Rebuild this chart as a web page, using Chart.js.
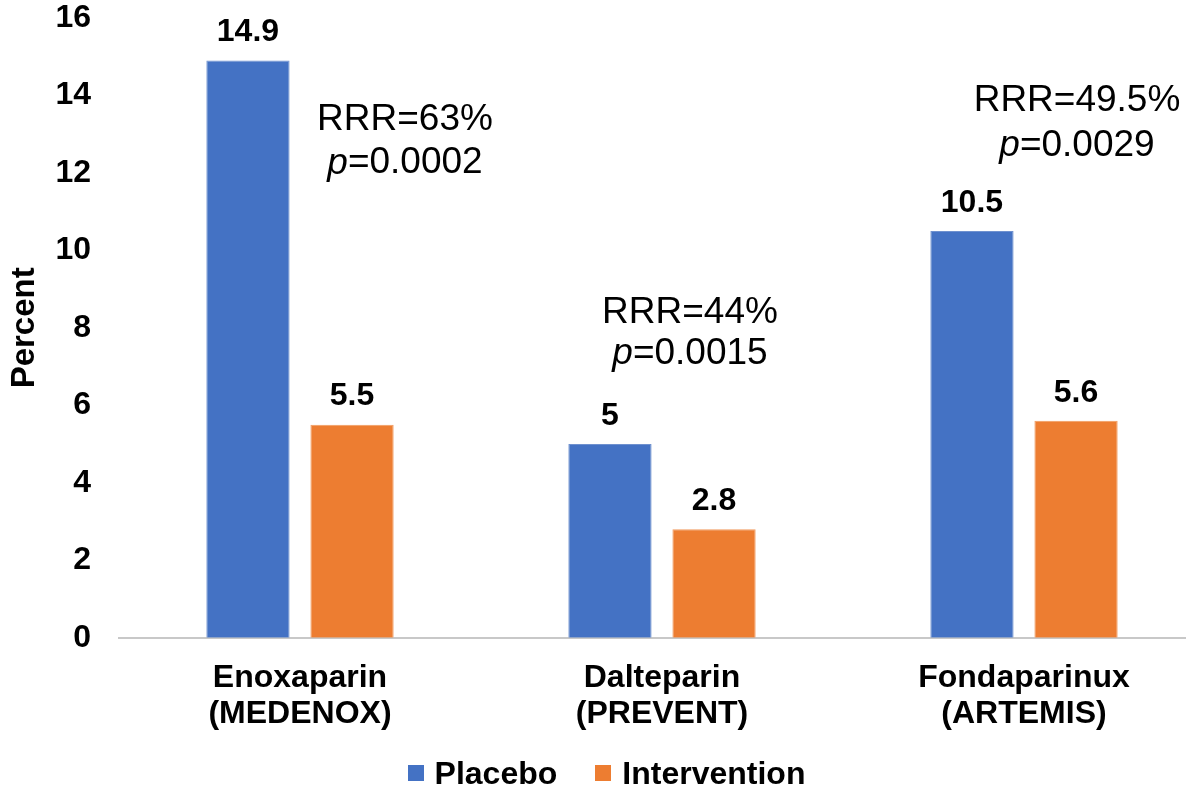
<!DOCTYPE html>
<html>
<head>
    <meta charset="utf-8" />
    <script src="https://cdn.jsdelivr.net/npm/chart.js"></script>
    <style>
        html, body {
            margin: 0;
            padding: 0;
            background: #ffffff;
            overflow: hidden;
        }

        .wrap {
            width: 1205px;
            height: 787px;
            position: relative;
        }

        .legend {
            position: absolute;
            left: 0;
            right: 0;
            top: 755px;
            height: 36px;
            display: flex;
            justify-content: center;
            align-items: center;
            font-family: 'Liberation Sans', Arial, sans-serif;
            font-weight: bold;
            font-size: 32px;
            color: #000;
            padding-left: 8px;
        }

        .legend span.item {
            display: flex;
            align-items: center;
            margin: 0 19px;
        }

        .legend span.box {
            display: inline-block;
            width: 16px;
            height: 16px;
            margin-right: 11px;
        }
    </style>
</head>
<body>
    <div class="wrap">
        <canvas id="chart"></canvas>
        <div class="legend" id="legend"></div>
    </div>
<script>
    // chart data
    var categories = [["Enoxaparin", "(MEDENOX)"], ["Dalteparin", "(PREVENT)"], ["Fondaparinux", "(ARTEMIS)"]];
    var seriesNames = ["Placebo", "Intervention"];
    var placebo = [14.9, 5, 10.5];
    var intervention = [5.5, 2.8, 5.6];
    var yTicks = [0, 2, 4, 6, 8, 10, 12, 14, 16];
    var rrrText = ["RRR=63%", "RRR=44%", "RRR=49.5%"];
    var pText = ["0.0002", "0.0015", "0.0029"];

    var colors = ["#4472c4", "#ed7d31"];
    var edgeColors = ["#6f91cf", "#f19a5e"];

    // where the RRR / p notes sit (x offset in px from category centre, y in axis units)
    var noteLayout = [
        { dx: 105, yRrr: 13.38, yP: 12.25 },
        { dx: 28, yRrr: 8.39, yP: 7.32 },
        { dx: 53, yRrr: 13.86, yP: 12.71 }
    ];

    var FONT = "'Liberation Sans', Arial, sans-serif";

    var labelsPlugin = {
        id: "labels",
        afterDatasetsDraw: function (chart) {
            var ctx = chart.ctx;
            var xs = chart.scales.x, ys = chart.scales.y;
            ctx.save();
            ctx.fillStyle = "#000";
            ctx.textAlign = "center";
            ctx.textBaseline = "middle";
            ctx.font = "bold 32px " + FONT;
            chart.data.datasets.forEach(function (ds, di) {
                chart.getDatasetMeta(di).data.forEach(function (bar, i) {
                    ctx.fillText(String(ds.data[i]), bar.x, bar.y - 28);
                });
            });

            // RRR and p-value notes
            noteLayout.forEach(function (n, i) {
                var cx = xs.getPixelForValue(i) + n.dx;
                ctx.textAlign = "center";
                ctx.font = "37px " + FONT;
                ctx.fillText(rrrText[i], cx, ys.getPixelForValue(n.yRrr));

                var rest = "=" + pText[i];
                ctx.font = "italic 37px " + FONT;
                var wp = ctx.measureText("p").width;
                ctx.font = "37px " + FONT;
                var wr = ctx.measureText(rest).width;
                var left = cx - (wp + wr) / 2;
                var py = ys.getPixelForValue(n.yP);
                ctx.textAlign = "left";
                ctx.font = "italic 37px " + FONT;
                ctx.fillText("p", left, py);
                ctx.font = "37px " + FONT;
                ctx.fillText(rest, left + wp, py);
            });
            ctx.restore();
        }
    };

    var ctx = document.getElementById("chart").getContext("2d");
    var chart = new Chart(ctx, {
        type: "bar",
        data: {
            labels: categories,
            datasets: [
                {
                    label: seriesNames[0],
                    data: placebo,
                    backgroundColor: colors[0],
                    borderColor: edgeColors[0],
                    borderWidth: 1,
                    barPercentage: 0.8,
                    categoryPercentage: 0.575
                },
                {
                    label: seriesNames[1],
                    data: intervention,
                    backgroundColor: colors[1],
                    borderColor: edgeColors[1],
                    borderWidth: 1,
                    barPercentage: 0.8,
                    categoryPercentage: 0.575
                }
            ]
        },
        options: {
            responsive: true,
            maintainAspectRatio: false,
            animation: false,
            layout: { padding: { top: 0, left: 0, right: 0, bottom: 33 } },
            plugins: {
                tooltip: { enabled: false },
                legend: { display: false }
            },
            scales: {
                x: {
                    grid: { display: false, drawTicks: false },
                    border: { color: "#c8c8c8", width: 2 },
                    ticks: {
                        color: "#000",
                        padding: 22,
                        maxRotation: 0,
                        autoSkip: false,
                        font: { family: FONT, size: 32, weight: "bold", lineHeight: 1.13 }
                    }
                },
                y: {
                    min: 0,
                    max: 16,
                    afterBuildTicks: function (axis) {
                        axis.ticks = yTicks.map(function (v) { return { value: v }; });
                    },
                    afterFit: function (axis) {
                        axis.width = 119;
                        axis.paddingTop = 18;
                        axis.paddingBottom = 0;
                    },
                    grid: { display: false, drawTicks: false },
                    border: { display: false },
                    title: {
                        display: true,
                        text: "Percent",
                        color: "#000",
                        padding: { top: 5, bottom: 11 },
                        font: { family: FONT, size: 33, weight: "bold" }
                    },
                    ticks: {
                        color: "#000",
                        padding: 28,
                        font: { family: FONT, size: 32, weight: "bold" }
                    }
                }
            }
        },
        plugins: [labelsPlugin]
    });

    // legend built from the series names and colours
    var legend = document.getElementById("legend");
    seriesNames.forEach(function (name, i) {
        var item = document.createElement("span");
        item.className = "item";
        var box = document.createElement("span");
        box.className = "box";
        box.style.background = colors[i];
        item.appendChild(box);
        item.appendChild(document.createTextNode(name));
        legend.appendChild(item);
    });
</script>
</body>
</html>
